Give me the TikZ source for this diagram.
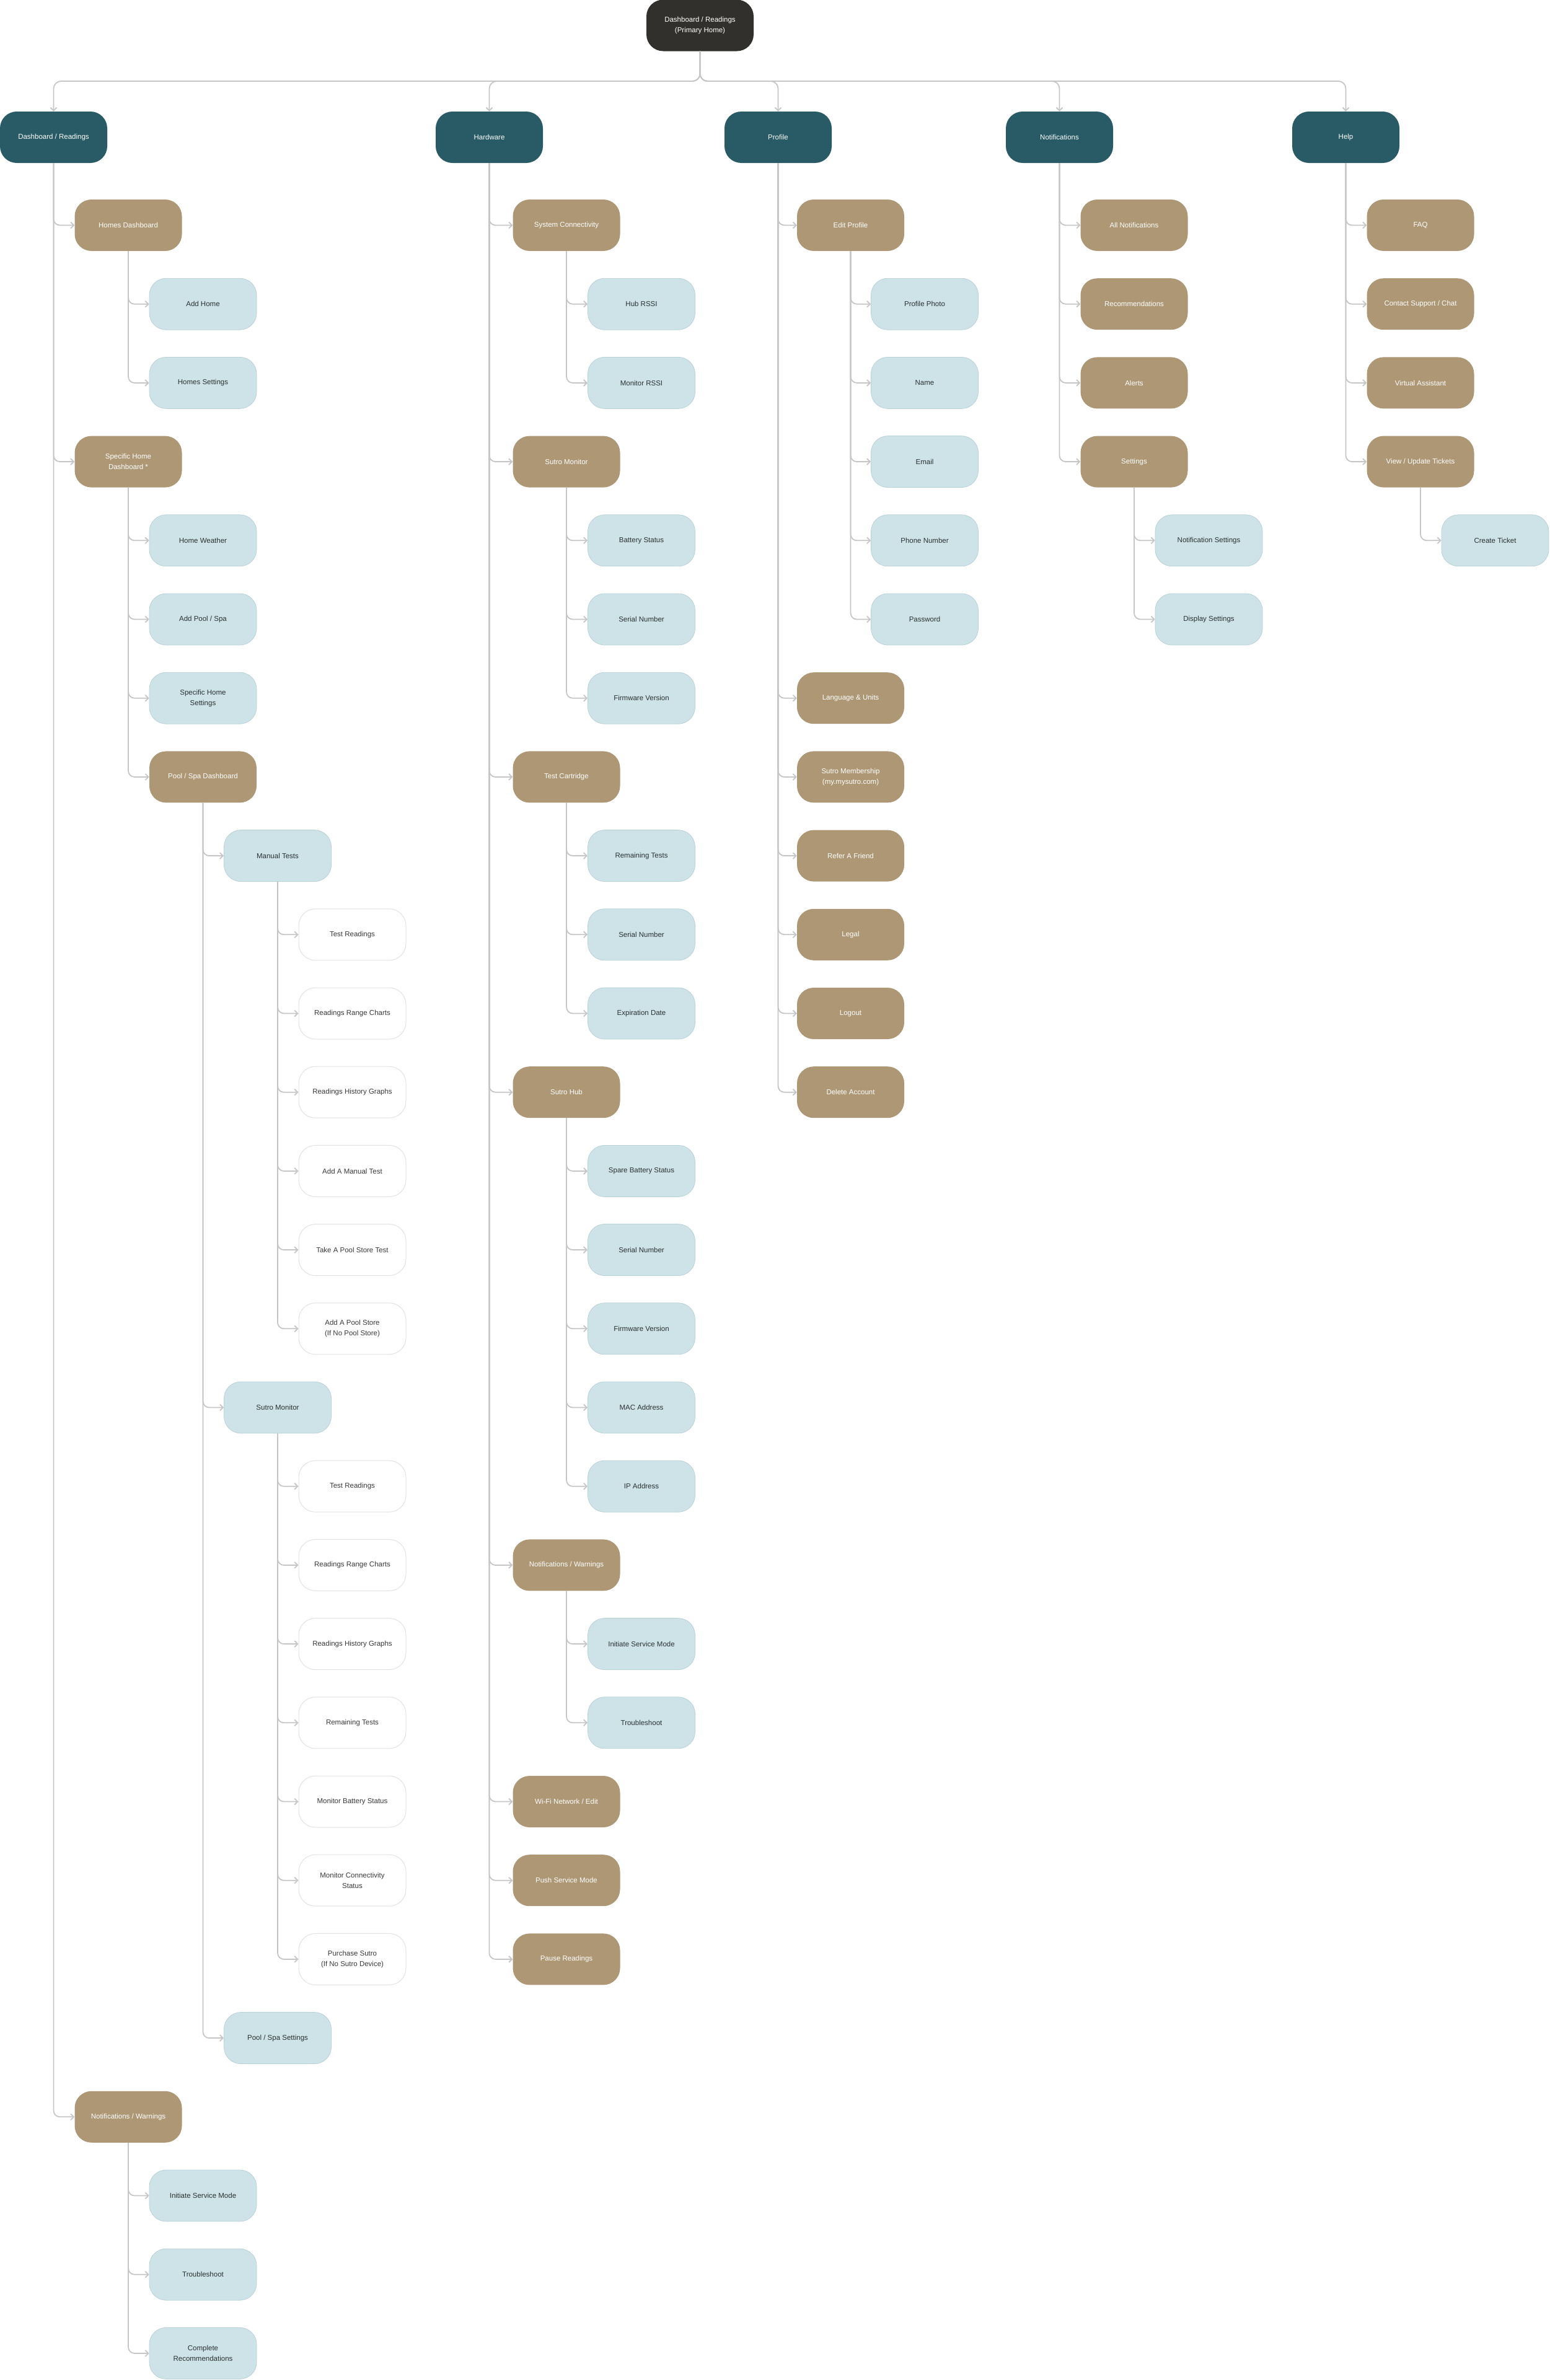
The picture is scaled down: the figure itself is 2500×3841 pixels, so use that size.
\documentclass[tikz,border=0pt]{standalone}
\usepackage{fontspec}
\setmainfont{Liberation Sans}
\usetikzlibrary{arrows.meta}
\definecolor{rootc}{HTML}{32302C}
\definecolor{tealc}{HTML}{285B65}
\definecolor{tanc}{HTML}{AD9774}
\definecolor{bluec}{HTML}{CDE3E8}
\definecolor{blueborder}{HTML}{B8D2D8}
\definecolor{linec}{HTML}{C6C6C6}
\definecolor{darktext}{HTML}{2A3133}
\definecolor{graytext}{HTML}{3A3A3A}
\definecolor{whiteborder}{HTML}{E2E2E2}
\begin{document}
\begin{tikzpicture}[x=1pt,y=-1pt,
  base/.style={rounded corners=27pt, minimum width=173pt, minimum height=83pt, inner sep=0pt, align=center, font=\fontsize{11.5}{17}\selectfont},
  rootbox/.style={base, fill=rootc, text=white},
  topbox/.style={base, fill=tealc, text=white},
  tanbox/.style={base, fill=tanc, text=white},
  bluebox/.style={base, fill=bluec, draw=blueborder, line width=0.8pt, text=darktext},
  whitebox/.style={base, fill=white, draw=whiteborder, line width=1pt, text=graytext},
  conn/.style={draw=linec, line width=1.8pt, rounded corners=10pt, -{Straight Barb[length=5pt,width=10pt]}},
  busconn/.style={draw=linec, line width=1.8pt, rounded corners=12pt, -{Straight Barb[length=5pt,width=10pt]}}
]
\useasboundingbox (0,0) rectangle (2500,3841);

% root and top level
\node[rootbox] (root) at (1129.5,41) {Dashboard / Readings\\(Primary Home)};
\node[topbox] (dr) at (86.5,221.5) {Dashboard / Readings};
\node[topbox] (hw) at (789.5,221.5) {Hardware};
\node[topbox] (pr) at (1255.5,221.5) {Profile};
\node[topbox] (nt) at (1709.5,221.5) {Notifications};
\node[topbox] (hp) at (2171.5,221.5) {Help};

% Dashboard / Readings tree
\node[tanbox] (hd) at (207,363.5) {Homes Dashboard};
\node[bluebox] (addhome) at (327.5,490.7) {Add Home};
\node[bluebox] (homeset) at (327.5,617.9) {Homes Settings};
\node[tanbox] (shd) at (207,745.1) {Specific Home\\Dashboard *};
\node[bluebox] (weather) at (327.5,872.3) {Home Weather};
\node[bluebox] (addpool) at (327.5,999.5) {Add Pool / Spa};
\node[bluebox] (shs) at (327.5,1126.7) {Specific Home\\Settings};
\node[tanbox] (psd) at (327.5,1253.9) {Pool / Spa Dashboard};
\node[bluebox] (mt) at (448,1381.1) {Manual Tests};
\node[whitebox] (mta) at (568.5,1508.3) {Test Readings};
\node[whitebox] (mtb) at (568.5,1635.5) {Readings Range Charts};
\node[whitebox] (mtc) at (568.5,1762.7) {Readings History Graphs};
\node[whitebox] (mtd) at (568.5,1889.9) {Add A Manual Test};
\node[whitebox] (mte) at (568.5,2017.1) {Take A Pool Store Test};
\node[whitebox] (mtf) at (568.5,2144.3) {Add A Pool Store\\(If No Pool Store)};
\node[bluebox] (sm) at (448,2271.5) {Sutro Monitor};
\node[whitebox] (sma) at (568.5,2398.7) {Test Readings};
\node[whitebox] (smb) at (568.5,2525.9) {Readings Range Charts};
\node[whitebox] (smc) at (568.5,2653.1) {Readings History Graphs};
\node[whitebox] (smd) at (568.5,2780.3) {Remaining Tests};
\node[whitebox] (sme) at (568.5,2907.5) {Monitor Battery Status};
\node[whitebox] (smf) at (568.5,3034.7) {Monitor Connectivity\\Status};
\node[whitebox] (smg) at (568.5,3161.9) {Purchase Sutro\\(If No Sutro Device)};
\node[bluebox] (pss) at (448,3289.1) {Pool / Spa Settings};
\node[tanbox] (nw) at (207,3416.3) {Notifications / Warnings};
\node[bluebox] (nwa) at (327.5,3543.5) {Initiate Service Mode};
\node[bluebox] (nwb) at (327.5,3670.7) {Troubleshoot};
\node[bluebox] (nwc) at (327.5,3797.9) {Complete\\Recommendations};

% Hardware tree
\node[tanbox] (sc) at (914,363.5) {System Connectivity};
\node[bluebox] (sca) at (1035,490.7) {Hub RSSI};
\node[bluebox] (scb) at (1035,617.9) {Monitor RSSI};
\node[tanbox] (hsm) at (914,745.1) {Sutro Monitor};
\node[bluebox] (hsma) at (1035,872.3) {Battery Status};
\node[bluebox] (hsmb) at (1035,999.5) {Serial Number};
\node[bluebox] (hsmc) at (1035,1126.7) {Firmware Version};
\node[tanbox] (tc) at (914,1253.9) {Test Cartridge};
\node[bluebox] (tca) at (1035,1381.1) {Remaining Tests};
\node[bluebox] (tcb) at (1035,1508.3) {Serial Number};
\node[bluebox] (tcc) at (1035,1635.5) {Expiration Date};
\node[tanbox] (sh) at (914,1762.7) {Sutro Hub};
\node[bluebox] (sha) at (1035,1889.9) {Spare Battery Status};
\node[bluebox] (shb) at (1035,2017.1) {Serial Number};
\node[bluebox] (shc) at (1035,2144.3) {Firmware Version};
\node[bluebox] (shdd) at (1035,2271.5) {MAC Address};
\node[bluebox] (she) at (1035,2398.7) {IP Address};
\node[tanbox] (hnw) at (914,2525.9) {Notifications / Warnings};
\node[bluebox] (hnwa) at (1035,2653.1) {Initiate Service Mode};
\node[bluebox] (hnwb) at (1035,2780.3) {Troubleshoot};
\node[tanbox] (wifi) at (914,2907.5) {Wi-Fi Network / Edit};
\node[tanbox] (push) at (914,3034.7) {Push Service Mode};
\node[tanbox] (pause) at (914,3161.9) {Pause Readings};

% Profile tree
\node[tanbox] (ep) at (1372.5,363.5) {Edit Profile};
\node[bluebox] (epa) at (1492,490.7) {Profile Photo};
\node[bluebox] (epb) at (1492,617.9) {Name};
\node[bluebox] (epc) at (1492,745.1) {Email};
\node[bluebox] (epd) at (1492,872.3) {Phone Number};
\node[bluebox] (epe) at (1492,999.5) {Password};
\node[tanbox] (lang) at (1372.5,1126.7) {Language \& Units};
\node[tanbox] (memb) at (1372.5,1253.9) {Sutro Membership\\(my.mysutro.com)};
\node[tanbox] (refer) at (1372.5,1381.1) {Refer A Friend};
\node[tanbox] (legal) at (1372.5,1508.3) {Legal};
\node[tanbox] (logout) at (1372.5,1635.5) {Logout};
\node[tanbox] (delacc) at (1372.5,1762.7) {Delete Account};

% Notifications tree
\node[tanbox] (alln) at (1830,363.5) {All Notifications};
\node[tanbox] (rec) at (1830,490.7) {Recommendations};
\node[tanbox] (alerts) at (1830,617.9) {Alerts};
\node[tanbox] (nset) at (1830,745.1) {Settings};
\node[bluebox] (nseta) at (1950.5,872.3) {Notification Settings};
\node[bluebox] (nsetb) at (1950.5,999.5) {Display Settings};

% Help tree
\node[tanbox] (faq) at (2292,363.5) {FAQ};
\node[tanbox] (contact) at (2292,490.7) {Contact Support / Chat};
\node[tanbox] (va) at (2292,617.9) {Virtual Assistant};
\node[tanbox] (vut) at (2292,745.1) {View / Update Tickets};
\node[bluebox] (ticket) at (2412.5,872.3) {Create Ticket};

% bus from root
\coordinate (busroot) at (1129.5,131);
\foreach \c in {dr,hw,pr,nt,hp}
  \draw[busconn] (root.south) -- (busroot) -| (\c.north);

% tree connectors
\foreach \p/\c in {dr/hd, dr/shd, dr/nw, hd/addhome, hd/homeset,
  shd/weather, shd/addpool, shd/shs, shd/psd, psd/mt, psd/sm, psd/pss,
  mt/mta, mt/mtb, mt/mtc, mt/mtd, mt/mte, mt/mtf,
  sm/sma, sm/smb, sm/smc, sm/smd, sm/sme, sm/smf, sm/smg,
  nw/nwa, nw/nwb, nw/nwc,
  hw/sc, hw/hsm, hw/tc, hw/sh, hw/hnw, hw/wifi, hw/push, hw/pause,
  sc/sca, sc/scb, hsm/hsma, hsm/hsmb, hsm/hsmc, tc/tca, tc/tcb, tc/tcc,
  sh/sha, sh/shb, sh/shc, sh/shdd, sh/she, hnw/hnwa, hnw/hnwb,
  pr/ep, pr/lang, pr/memb, pr/refer, pr/legal, pr/logout, pr/delacc,
  ep/epa, ep/epb, ep/epc, ep/epd, ep/epe,
  nt/alln, nt/rec, nt/alerts, nt/nset, nset/nseta, nset/nsetb,
  hp/faq, hp/contact, hp/va, hp/vut, vut/ticket}
  \draw[conn] (\p.south) |- (\c.west);
\end{tikzpicture}
\end{document}
